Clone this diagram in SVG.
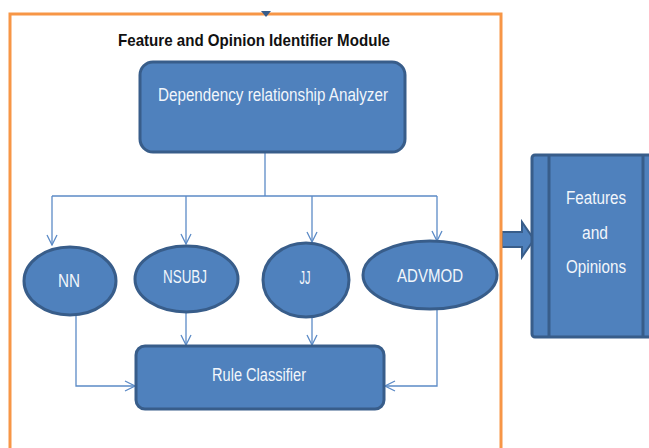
<svg xmlns="http://www.w3.org/2000/svg" width="649" height="448" viewBox="0 0 649 448">
<style>
.node{fill:#4F81BD;stroke:#385D8A;stroke-width:3}
.lbl{font-family:"Liberation Sans",Arial,sans-serif;font-size:17.5px;fill:#F2F6FB;text-anchor:middle;dominant-baseline:central}
.conn{fill:none;stroke:#5B8AC6;stroke-width:1.3}
.title{font-family:"Liberation Sans",Arial,sans-serif;font-size:17px;font-weight:bold;fill:#111;text-anchor:middle;dominant-baseline:central}
</style>
<defs>
<marker id="open" viewBox="0 0 12 12" refX="11" refY="6" markerWidth="12" markerHeight="12" markerUnits="userSpaceOnUse" orient="auto">
<path d="M1,1 L11,6 L1,11" fill="none" stroke="#5B8AC6" stroke-width="1.3"/>
</marker>
</defs>
<rect width="649" height="448" fill="#fff"/>
<g id="output-arrow">
<polygon points="502,232 522,232 522,222 534,239.5 522,257 522,247 502,247" fill="#4F81BD" stroke="#385D8A" stroke-width="2"/>
</g>
<g id="module-frame">
<path d="M10,448 V14 H501 V448" fill="none" stroke="#F79646" stroke-width="3"/>
<polygon points="261,11 271,11 266,17" fill="#385D8A"/>
<text class="title" x="254" y="40" textLength="272" lengthAdjust="spacingAndGlyphs">Feature and Opinion Identifier Module</text>
</g>
<g id="connectors">
<path class="conn" d="M265,152 V196"/>
<path class="conn" d="M52,196 H437"/>
<path class="conn" d="M52,196 V245" marker-end="url(#open)"/>
<path class="conn" d="M186,196 V244" marker-end="url(#open)"/>
<path class="conn" d="M312,196 V242" marker-end="url(#open)"/>
<path class="conn" d="M437,196 V241" marker-end="url(#open)"/>
<path class="conn" d="M76,315 V386 H135" marker-end="url(#open)"/>
<path class="conn" d="M186,312 V345" marker-end="url(#open)"/>
<path class="conn" d="M312,317 V345" marker-end="url(#open)"/>
<path class="conn" d="M437,309 V386 H385" marker-end="url(#open)"/>
</g>
<g id="analyzer">
<rect class="node" x="140" y="62" width="265" height="90" rx="13"/>
<text class="lbl" x="273" y="95" textLength="230" lengthAdjust="spacingAndGlyphs">Dependency relationship Analyzer</text>
</g>
<g id="nn">
<ellipse class="node" cx="70" cy="281" rx="46" ry="34"/>
<text class="lbl" x="69" y="281" textLength="22" lengthAdjust="spacingAndGlyphs">NN</text>
</g>
<g id="nsubj">
<ellipse class="node" cx="186.5" cy="279" rx="51.5" ry="33"/>
<text class="lbl" x="185" y="277" textLength="44" lengthAdjust="spacingAndGlyphs">NSUBJ</text>
</g>
<g id="jj">
<ellipse class="node" cx="306" cy="280" rx="43" ry="37"/>
<text class="lbl" x="305" y="278" textLength="11" lengthAdjust="spacingAndGlyphs">JJ</text>
</g>
<g id="advmod">
<ellipse class="node" cx="430" cy="275" rx="67" ry="34"/>
<text class="lbl" x="430" y="276" textLength="66" lengthAdjust="spacingAndGlyphs">ADVMOD</text>
</g>
<g id="rule-classifier">
<rect class="node" x="136" y="346" width="248" height="63" rx="9"/>
<text class="lbl" x="259" y="375" textLength="94" lengthAdjust="spacingAndGlyphs">Rule Classifier</text>
</g>
<g id="features-opinions">
<rect class="node" x="532" y="155" width="130" height="182" rx="3"/>
<line x1="549" y1="155" x2="549" y2="337" stroke="#385D8A" stroke-width="3"/>
<line x1="643" y1="155" x2="643" y2="337" stroke="#385D8A" stroke-width="3"/>
<text class="lbl" x="596" y="198" textLength="60" lengthAdjust="spacingAndGlyphs">Features</text>
<text class="lbl" x="595" y="233" textLength="26" lengthAdjust="spacingAndGlyphs">and</text>
<text class="lbl" x="596" y="267" textLength="60" lengthAdjust="spacingAndGlyphs">Opinions</text>
</g>
</svg>
